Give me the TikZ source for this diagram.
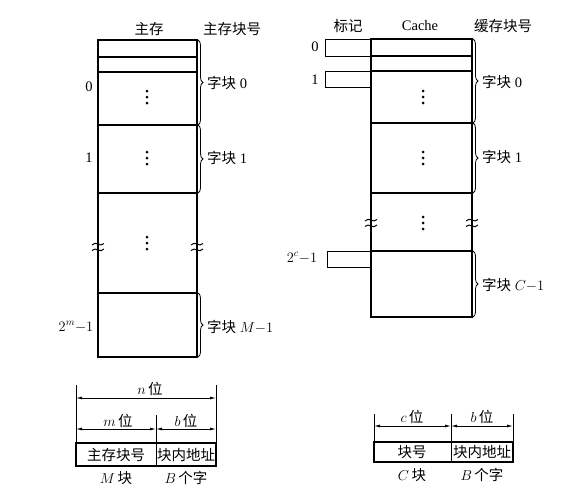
\documentclass[tikz,border=0pt]{standalone}
\usepackage{fontspec}
\setmainfont{Liberation Serif}
\newfontfamily\cjk{Noto Sans CJK SC}
\usetikzlibrary{decorations.pathreplacing,arrows.meta}
\begin{document}
\begin{tikzpicture}[x=1pt,y=-1pt,
  every node/.style={inner sep=1pt,font=\fontsize{14.5}{16}\selectfont},
  box/.style={line width=1.3pt},
  thin box/.style={line width=1pt},
  rowline/.style={line width=1.2pt},
  brc/.style={decorate,decoration={brace,amplitude=5pt},line width=0.8pt},
  dim/.style={line width=0.8pt,{Latex[length=6pt,width=3pt]}-{Latex[length=6pt,width=3pt]}},
  vline/.style={line width=0.9pt}]
\useasboundingbox (0,0) rectangle (570,498);
\newcommand\vdotsat[2]{\fill (#1,#2-6) circle (1.5) (#1,#2) circle (1.5) (#1,#2+6) circle (1.5);}
\newcommand\waveat[2]{%
  \draw[line width=1pt] (#1-6,#2-2) .. controls (#1-2,#2-7) and (#1+2,#2+1) .. (#1+6,#2-3.5);
  \draw[line width=1pt] (#1-6,#2+3.5) .. controls (#1-2,#2-1) and (#1+2,#2+7) .. (#1+6,#2+2);}
% ---------- main memory ----------
\node (hmain) at (149,29) {\cjk 主存};
\node (hmainno) at (232,29) {\cjk 主存块号};
\draw[box] (98,40) rectangle (197,357);
\foreach \y in {57,72,125,193,293} \draw[rowline] (98,\y) -- (197,\y);
\node (m0) at (89,87) {0};
\node (m1) at (89,158) {1};
\node (mlast) at (76,327) {$2^m{-}1$};
\vdotsat{147}{97}
\vdotsat{147}{158}
\vdotsat{147}{243}
\waveat{98}{247}
\waveat{197}{247}
\draw[brc] (198,40) -- (198,125);
\draw[brc] (198,125) -- (198,193);
\draw[brc] (198,293) -- (198,357);
\node[anchor=west] (mb0) at (206,83) {{\cjk 字块} 0};
\node[anchor=west] (mb1) at (206,158) {{\cjk 字块} 1};
\node[anchor=west] (mbl) at (206,327) {{\cjk 字块} $M{-}1$};
% ---------- cache ----------
\node (htag) at (348,26) {\cjk 标记};
\node (hcache) at (420,26) {Cache};
\node (hcno) at (503,26) {\cjk 缓存块号};
\draw[box] (371,39) rectangle (472,317);
\foreach \y in {56,71,123,193,251} \draw[rowline] (371,\y) -- (472,\y);
\draw[thin box] (371,39) -- (325,39) -- (325,56) -- (371,56);
\draw[thin box] (371,71) -- (325,71) -- (325,87) -- (371,87);
\draw[thin box] (371,251) -- (327,251) -- (327,267) -- (371,267);
\node (c0) at (315,47) {0};
\node (c1) at (315,80) {1};
\node (clast) at (302,258) {$2^c{-}1$};
\vdotsat{423}{97}
\vdotsat{423}{158}
\vdotsat{423}{223}
\waveat{371}{223}
\waveat{472}{223}
\draw[brc] (473,39) -- (473,123);
\draw[brc] (473,123) -- (473,193);
\draw[brc] (473,251) -- (473,317);
\node[anchor=west] (cb0) at (481,82) {{\cjk 字块} 0};
\node[anchor=west] (cb1) at (481,157) {{\cjk 字块} 1};
\node[anchor=west] (cbl) at (481,285) {{\cjk 字块} $C{-}1$};
% ---------- main memory address format ----------
\coordinate (La) at (76,398); \coordinate (Lb) at (216,398);
\coordinate (Lc) at (76,429); \coordinate (Ld) at (156,429); \coordinate (Le) at (216,429);
\draw[vline] (76,385) -- (76,466);
\draw[vline] (216,385) -- (216,466);
\draw[vline] (156,415) -- (156,466);
\draw[box] (76,443) rectangle (216,466);
\draw[dim] (La) -- (Lb);
\draw[dim] (Lc) -- (Ld);
\draw[dim] (Ld) -- (Le);
\node (nbit) at (150,389) {$n$\,{\cjk 位}};
\node (mbit) at (118,421) {$m$\,{\cjk 位}};
\node (bbit) at (186,421) {$b$\,{\cjk 位}};
\node (f1) at (116,455) {\cjk 主存块号};
\node (f2) at (186,455) {\cjk 块内地址};
\node (Mk) at (116,478) {$M$\,{\cjk 块}};
\node (Bw) at (186,478) {$B$\,{\cjk 个字}};
% ---------- cache address format ----------
\coordinate (Ra) at (374,426); \coordinate (Rb) at (451,426); \coordinate (Rc) at (513,426);
\draw[vline] (374,414) -- (374,462);
\draw[vline] (451,414) -- (451,462);
\draw[vline] (513,414) -- (513,462);
\draw[box] (374,442) rectangle (513,462);
\draw[dim] (Ra) -- (Rb);
\draw[dim] (Rb) -- (Rc);
\node (cbit) at (412,417) {$c$\,{\cjk 位}};
\node (b2bit) at (482,417) {$b$\,{\cjk 位}};
\node (g1) at (412,452) {\cjk 块号};
\node (g2) at (482,452) {\cjk 块内地址};
\node (Ck) at (412,475) {$C$\,{\cjk 块}};
\node (Bw2) at (482,475) {$B$\,{\cjk 个字}};
\end{tikzpicture}
\end{document}
